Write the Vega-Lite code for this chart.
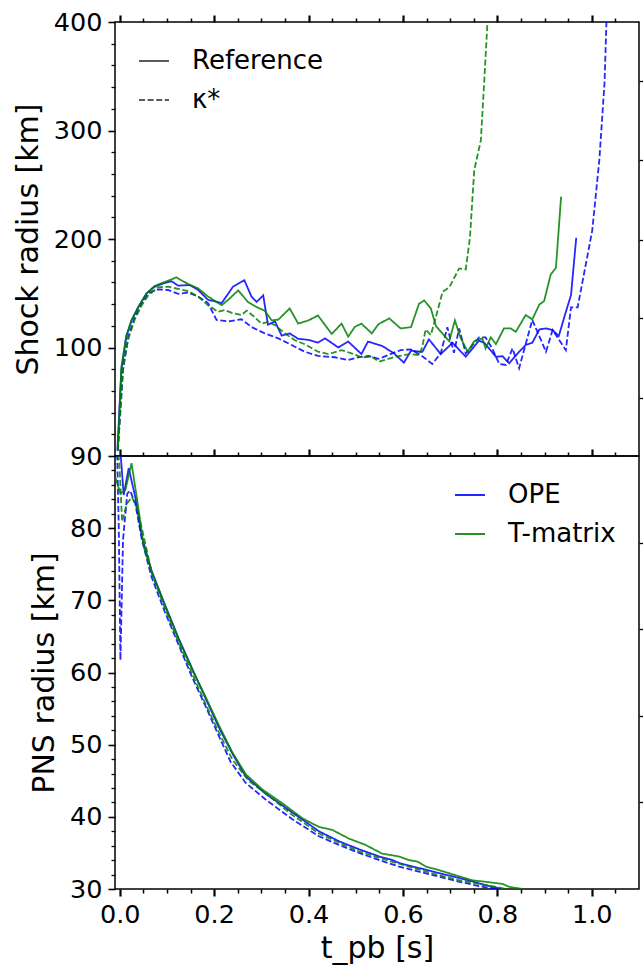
{
  "$schema": "https://vega.github.io/schema/vega-lite/v6.json",
  "padding": {"left": 12, "top": 9, "right": 0, "bottom": 0},
  "background": "white",
  "datasets": {
    "shock": [
      {"model":"OPE","run":"Reference","t":-0.005,"r":5},{"model":"OPE","run":"Reference","t":0.0035,"r":79},{"model":"OPE","run":"Reference","t":0.014,"r":110},{"model":"OPE","run":"Reference","t":0.025,"r":125},{"model":"OPE","run":"Reference","t":0.039,"r":137},{"model":"OPE","run":"Reference","t":0.057,"r":150},{"model":"OPE","run":"Reference","t":0.074,"r":156},{"model":"OPE","run":"Reference","t":0.092,"r":159},{"model":"OPE","run":"Reference","t":0.11,"r":161},{"model":"OPE","run":"Reference","t":0.124,"r":157},{"model":"OPE","run":"Reference","t":0.148,"r":157.6},{"model":"OPE","run":"Reference","t":0.166,"r":153},{"model":"OPE","run":"Reference","t":0.187,"r":144},{"model":"OPE","run":"Reference","t":0.216,"r":141},{"model":"OPE","run":"Reference","t":0.24,"r":156},{"model":"OPE","run":"Reference","t":0.264,"r":162},{"model":"OPE","run":"Reference","t":0.279,"r":147},{"model":"OPE","run":"Reference","t":0.29,"r":142},{"model":"OPE","run":"Reference","t":0.304,"r":148},{"model":"OPE","run":"Reference","t":0.314,"r":121},{"model":"OPE","run":"Reference","t":0.329,"r":124},{"model":"OPE","run":"Reference","t":0.343,"r":111},{"model":"OPE","run":"Reference","t":0.36,"r":113},{"model":"OPE","run":"Reference","t":0.378,"r":108},{"model":"OPE","run":"Reference","t":0.4,"r":107},{"model":"OPE","run":"Reference","t":0.42,"r":104.5},{"model":"OPE","run":"Reference","t":0.435,"r":108.4},{"model":"OPE","run":"Reference","t":0.463,"r":100},{"model":"OPE","run":"Reference","t":0.484,"r":105.5},{"model":"OPE","run":"Reference","t":0.512,"r":94},{"model":"OPE","run":"Reference","t":0.526,"r":105.5},{"model":"OPE","run":"Reference","t":0.556,"r":101.4},{"model":"OPE","run":"Reference","t":0.581,"r":94.6},{"model":"OPE","run":"Reference","t":0.602,"r":86},{"model":"OPE","run":"Reference","t":0.617,"r":97},{"model":"OPE","run":"Reference","t":0.641,"r":96},{"model":"OPE","run":"Reference","t":0.655,"r":107.5},{"model":"OPE","run":"Reference","t":0.68,"r":93.9},{"model":"OPE","run":"Reference","t":0.705,"r":104.4},{"model":"OPE","run":"Reference","t":0.733,"r":91.5},{"model":"OPE","run":"Reference","t":0.761,"r":106.3},{"model":"OPE","run":"Reference","t":0.772,"r":104.4},{"model":"OPE","run":"Reference","t":0.797,"r":91.5},{"model":"OPE","run":"Reference","t":0.811,"r":92},{"model":"OPE","run":"Reference","t":0.825,"r":85.4},{"model":"OPE","run":"Reference","t":0.843,"r":94.6},{"model":"OPE","run":"Reference","t":0.86,"r":102.3},{"model":"OPE","run":"Reference","t":0.874,"r":104.4},{"model":"OPE","run":"Reference","t":0.889,"r":116.7},{"model":"OPE","run":"Reference","t":0.903,"r":117.6},{"model":"OPE","run":"Reference","t":0.917,"r":116.1},{"model":"OPE","run":"Reference","t":0.93,"r":110.5},{"model":"OPE","run":"Reference","t":0.942,"r":128.4},{"model":"OPE","run":"Reference","t":0.956,"r":148.4},{"model":"OPE","run":"Reference","t":0.967,"r":201},
      {"model":"OPE","run":"κ*","t":-0.004,"r":5},{"model":"OPE","run":"κ*","t":0.007,"r":79},{"model":"OPE","run":"κ*","t":0.018,"r":110},{"model":"OPE","run":"κ*","t":0.032,"r":128},{"model":"OPE","run":"κ*","t":0.046,"r":140.6},{"model":"OPE","run":"κ*","t":0.06,"r":150},{"model":"OPE","run":"κ*","t":0.081,"r":153.6},{"model":"OPE","run":"κ*","t":0.102,"r":153},{"model":"OPE","run":"κ*","t":0.124,"r":149.5},{"model":"OPE","run":"κ*","t":0.145,"r":150.6},{"model":"OPE","run":"κ*","t":0.166,"r":147},{"model":"OPE","run":"κ*","t":0.187,"r":141},{"model":"OPE","run":"κ*","t":0.205,"r":125.4},{"model":"OPE","run":"κ*","t":0.23,"r":124},{"model":"OPE","run":"κ*","t":0.258,"r":126},{"model":"OPE","run":"κ*","t":0.279,"r":119},{"model":"OPE","run":"κ*","t":0.307,"r":113},{"model":"OPE","run":"κ*","t":0.336,"r":108.4},{"model":"OPE","run":"κ*","t":0.364,"r":102.3},{"model":"OPE","run":"κ*","t":0.392,"r":96.1},{"model":"OPE","run":"κ*","t":0.42,"r":92.3},{"model":"OPE","run":"κ*","t":0.456,"r":91},{"model":"OPE","run":"κ*","t":0.484,"r":88.5},{"model":"OPE","run":"κ*","t":0.505,"r":91},{"model":"OPE","run":"κ*","t":0.527,"r":92.3},{"model":"OPE","run":"κ*","t":0.548,"r":89.5},{"model":"OPE","run":"κ*","t":0.595,"r":97.6},{"model":"OPE","run":"κ*","t":0.617,"r":98.2},{"model":"OPE","run":"κ*","t":0.641,"r":92},{"model":"OPE","run":"κ*","t":0.662,"r":84.8},{"model":"OPE","run":"κ*","t":0.68,"r":94.6},{"model":"OPE","run":"κ*","t":0.694,"r":118.6},{"model":"OPE","run":"κ*","t":0.708,"r":95.2},{"model":"OPE","run":"κ*","t":0.719,"r":117.6},{"model":"OPE","run":"κ*","t":0.733,"r":94.6},{"model":"OPE","run":"κ*","t":0.761,"r":109.3},{"model":"OPE","run":"κ*","t":0.775,"r":109.3},{"model":"OPE","run":"κ*","t":0.789,"r":99.2},{"model":"OPE","run":"κ*","t":0.804,"r":84.8},{"model":"OPE","run":"κ*","t":0.818,"r":83.9},{"model":"OPE","run":"κ*","t":0.832,"r":99.2},{"model":"OPE","run":"κ*","t":0.846,"r":80.9},{"model":"OPE","run":"κ*","t":0.874,"r":125.4},{"model":"OPE","run":"κ*","t":0.903,"r":96.1},{"model":"OPE","run":"κ*","t":0.917,"r":116.1},{"model":"OPE","run":"κ*","t":0.945,"r":97.6},{"model":"OPE","run":"κ*","t":0.956,"r":137},{"model":"OPE","run":"κ*","t":0.97,"r":137},{"model":"OPE","run":"κ*","t":1.001,"r":208},{"model":"OPE","run":"κ*","t":1.016,"r":273},{"model":"OPE","run":"κ*","t":1.027,"r":344},{"model":"OPE","run":"κ*","t":1.031,"r":400},{"model":"OPE","run":"κ*","t":1.034,"r":430},
      {"model":"T-matrix","run":"Reference","t":-0.004,"r":5},{"model":"T-matrix","run":"Reference","t":0.0035,"r":82},{"model":"T-matrix","run":"Reference","t":0.014,"r":111},{"model":"T-matrix","run":"Reference","t":0.025,"r":125},{"model":"T-matrix","run":"Reference","t":0.039,"r":137},{"model":"T-matrix","run":"Reference","t":0.057,"r":150},{"model":"T-matrix","run":"Reference","t":0.074,"r":156.7},{"model":"T-matrix","run":"Reference","t":0.092,"r":159.8},{"model":"T-matrix","run":"Reference","t":0.11,"r":162.8},{"model":"T-matrix","run":"Reference","t":0.12,"r":164.7},{"model":"T-matrix","run":"Reference","t":0.127,"r":162.8},{"model":"T-matrix","run":"Reference","t":0.145,"r":158.5},{"model":"T-matrix","run":"Reference","t":0.166,"r":154.5},{"model":"T-matrix","run":"Reference","t":0.187,"r":147},{"model":"T-matrix","run":"Reference","t":0.216,"r":139},{"model":"T-matrix","run":"Reference","t":0.23,"r":144},{"model":"T-matrix","run":"Reference","t":0.251,"r":152.6},{"model":"T-matrix","run":"Reference","t":0.272,"r":141.8},{"model":"T-matrix","run":"Reference","t":0.29,"r":137.2},{"model":"T-matrix","run":"Reference","t":0.307,"r":134},{"model":"T-matrix","run":"Reference","t":0.322,"r":125},{"model":"T-matrix","run":"Reference","t":0.336,"r":125.7},{"model":"T-matrix","run":"Reference","t":0.36,"r":136},{"model":"T-matrix","run":"Reference","t":0.378,"r":122},{"model":"T-matrix","run":"Reference","t":0.4,"r":125},{"model":"T-matrix","run":"Reference","t":0.42,"r":129.5},{"model":"T-matrix","run":"Reference","t":0.449,"r":112.5},{"model":"T-matrix","run":"Reference","t":0.47,"r":122},{"model":"T-matrix","run":"Reference","t":0.484,"r":110},{"model":"T-matrix","run":"Reference","t":0.498,"r":119},{"model":"T-matrix","run":"Reference","t":0.512,"r":122},{"model":"T-matrix","run":"Reference","t":0.534,"r":113},{"model":"T-matrix","run":"Reference","t":0.548,"r":121.5},{"model":"T-matrix","run":"Reference","t":0.571,"r":126.8},{"model":"T-matrix","run":"Reference","t":0.595,"r":117.6},{"model":"T-matrix","run":"Reference","t":0.617,"r":118.8},{"model":"T-matrix","run":"Reference","t":0.634,"r":140.3},{"model":"T-matrix","run":"Reference","t":0.645,"r":143.4},{"model":"T-matrix","run":"Reference","t":0.659,"r":136},{"model":"T-matrix","run":"Reference","t":0.67,"r":119.7},{"model":"T-matrix","run":"Reference","t":0.698,"r":105.9},{"model":"T-matrix","run":"Reference","t":0.71,"r":125},{"model":"T-matrix","run":"Reference","t":0.722,"r":109},{"model":"T-matrix","run":"Reference","t":0.737,"r":96.1},{"model":"T-matrix","run":"Reference","t":0.751,"r":105.9},{"model":"T-matrix","run":"Reference","t":0.768,"r":108.4},{"model":"T-matrix","run":"Reference","t":0.775,"r":99.2},{"model":"T-matrix","run":"Reference","t":0.786,"r":109.3},{"model":"T-matrix","run":"Reference","t":0.797,"r":103.2},{"model":"T-matrix","run":"Reference","t":0.814,"r":117.6},{"model":"T-matrix","run":"Reference","t":0.828,"r":117.6},{"model":"T-matrix","run":"Reference","t":0.839,"r":114.5},{"model":"T-matrix","run":"Reference","t":0.86,"r":129.9},{"model":"T-matrix","run":"Reference","t":0.874,"r":125.9},{"model":"T-matrix","run":"Reference","t":0.889,"r":139.7},{"model":"T-matrix","run":"Reference","t":0.899,"r":142.8},{"model":"T-matrix","run":"Reference","t":0.913,"r":167.3},{"model":"T-matrix","run":"Reference","t":0.924,"r":173.5},{"model":"T-matrix","run":"Reference","t":0.935,"r":239},
      {"model":"T-matrix","run":"κ*","t":-0.004,"r":5},{"model":"T-matrix","run":"κ*","t":0.007,"r":82},{"model":"T-matrix","run":"κ*","t":0.018,"r":107.6},{"model":"T-matrix","run":"κ*","t":0.032,"r":126},{"model":"T-matrix","run":"κ*","t":0.046,"r":138.4},{"model":"T-matrix","run":"κ*","t":0.06,"r":147.8},{"model":"T-matrix","run":"κ*","t":0.081,"r":155.5},{"model":"T-matrix","run":"κ*","t":0.102,"r":156},{"model":"T-matrix","run":"κ*","t":0.124,"r":154},{"model":"T-matrix","run":"κ*","t":0.145,"r":152},{"model":"T-matrix","run":"κ*","t":0.166,"r":147},{"model":"T-matrix","run":"κ*","t":0.187,"r":139},{"model":"T-matrix","run":"κ*","t":0.208,"r":133},{"model":"T-matrix","run":"κ*","t":0.223,"r":134.5},{"model":"T-matrix","run":"κ*","t":0.24,"r":131.5},{"model":"T-matrix","run":"κ*","t":0.258,"r":130},{"model":"T-matrix","run":"κ*","t":0.269,"r":134},{"model":"T-matrix","run":"κ*","t":0.286,"r":128},{"model":"T-matrix","run":"κ*","t":0.3,"r":122},{"model":"T-matrix","run":"κ*","t":0.314,"r":123.6},{"model":"T-matrix","run":"κ*","t":0.329,"r":120.5},{"model":"T-matrix","run":"κ*","t":0.35,"r":112.9},{"model":"T-matrix","run":"κ*","t":0.371,"r":106.7},{"model":"T-matrix","run":"κ*","t":0.392,"r":103},{"model":"T-matrix","run":"κ*","t":0.42,"r":96.1},{"model":"T-matrix","run":"κ*","t":0.442,"r":94},{"model":"T-matrix","run":"κ*","t":0.47,"r":97.6},{"model":"T-matrix","run":"κ*","t":0.491,"r":94.6},{"model":"T-matrix","run":"κ*","t":0.512,"r":90.9},{"model":"T-matrix","run":"κ*","t":0.534,"r":91.5},{"model":"T-matrix","run":"κ*","t":0.549,"r":87},{"model":"T-matrix","run":"κ*","t":0.585,"r":91.5},{"model":"T-matrix","run":"κ*","t":0.613,"r":93.9},{"model":"T-matrix","run":"κ*","t":0.634,"r":93},{"model":"T-matrix","run":"κ*","t":0.641,"r":100.6},{"model":"T-matrix","run":"κ*","t":0.648,"r":116.7},{"model":"T-matrix","run":"κ*","t":0.659,"r":111.5},{"model":"T-matrix","run":"κ*","t":0.67,"r":128.4},{"model":"T-matrix","run":"κ*","t":0.684,"r":151.4},{"model":"T-matrix","run":"κ*","t":0.698,"r":155.4},{"model":"T-matrix","run":"κ*","t":0.719,"r":172.9},{"model":"T-matrix","run":"κ*","t":0.733,"r":172},{"model":"T-matrix","run":"κ*","t":0.742,"r":201.8},{"model":"T-matrix","run":"κ*","t":0.751,"r":263.6},{"model":"T-matrix","run":"κ*","t":0.765,"r":291},{"model":"T-matrix","run":"κ*","t":0.772,"r":343.8},{"model":"T-matrix","run":"κ*","t":0.779,"r":400},{"model":"T-matrix","run":"κ*","t":0.781,"r":430}
    ],
    "pns": [
      {"model":"OPE","run":"Reference","t":-0.008,"r":98},{"model":"OPE","run":"Reference","t":0.001,"r":91},{"model":"OPE","run":"Reference","t":0.0085,"r":84.6},{"model":"OPE","run":"Reference","t":0.019,"r":88.3},{"model":"OPE","run":"Reference","t":0.033,"r":84.3},{"model":"OPE","run":"Reference","t":0.047,"r":78.8},{"model":"OPE","run":"Reference","t":0.067,"r":74.2},{"model":"OPE","run":"Reference","t":0.095,"r":69.5},{"model":"OPE","run":"Reference","t":0.125,"r":64.7},{"model":"OPE","run":"Reference","t":0.153,"r":60.6},{"model":"OPE","run":"Reference","t":0.182,"r":56.4},{"model":"OPE","run":"Reference","t":0.21,"r":52.4},{"model":"OPE","run":"Reference","t":0.24,"r":48.6},{"model":"OPE","run":"Reference","t":0.267,"r":45.6},{"model":"OPE","run":"Reference","t":0.309,"r":43.2},{"model":"OPE","run":"Reference","t":0.344,"r":41.6},{"model":"OPE","run":"Reference","t":0.394,"r":39.3},{"model":"OPE","run":"Reference","t":0.422,"r":38},{"model":"OPE","run":"Reference","t":0.465,"r":36.6},{"model":"OPE","run":"Reference","t":0.507,"r":35.5},{"model":"OPE","run":"Reference","t":0.55,"r":34.5},{"model":"OPE","run":"Reference","t":0.578,"r":34},{"model":"OPE","run":"Reference","t":0.592,"r":33.6},{"model":"OPE","run":"Reference","t":0.634,"r":32.9},{"model":"OPE","run":"Reference","t":0.677,"r":32.2},{"model":"OPE","run":"Reference","t":0.72,"r":31.5},{"model":"OPE","run":"Reference","t":0.755,"r":30.9},{"model":"OPE","run":"Reference","t":0.783,"r":30.4},{"model":"OPE","run":"Reference","t":0.804,"r":30.1},{"model":"OPE","run":"Reference","t":0.82,"r":29.7},
      {"model":"OPE","run":"κ*","t":-0.007,"r":95},{"model":"OPE","run":"κ*","t":-0.002,"r":80},{"model":"OPE","run":"κ*","t":0.0015,"r":61.7},{"model":"OPE","run":"κ*","t":0.007,"r":78.4},{"model":"OPE","run":"κ*","t":0.016,"r":84.8},{"model":"OPE","run":"κ*","t":0.022,"r":85.2},{"model":"OPE","run":"κ*","t":0.033,"r":83.4},{"model":"OPE","run":"κ*","t":0.047,"r":78.4},{"model":"OPE","run":"κ*","t":0.067,"r":73.3},{"model":"OPE","run":"κ*","t":0.095,"r":68.5},{"model":"OPE","run":"κ*","t":0.125,"r":63.8},{"model":"OPE","run":"κ*","t":0.153,"r":59.4},{"model":"OPE","run":"κ*","t":0.182,"r":55.3},{"model":"OPE","run":"κ*","t":0.21,"r":51.2},{"model":"OPE","run":"κ*","t":0.235,"r":47.6},{"model":"OPE","run":"κ*","t":0.267,"r":44.7},{"model":"OPE","run":"κ*","t":0.309,"r":42.4},{"model":"OPE","run":"κ*","t":0.365,"r":39.7},{"model":"OPE","run":"κ*","t":0.422,"r":37.3},{"model":"OPE","run":"κ*","t":0.465,"r":36.1},{"model":"OPE","run":"κ*","t":0.507,"r":35},{"model":"OPE","run":"κ*","t":0.55,"r":34},{"model":"OPE","run":"κ*","t":0.592,"r":33.1},{"model":"OPE","run":"κ*","t":0.634,"r":32.4},{"model":"OPE","run":"κ*","t":0.677,"r":31.7},{"model":"OPE","run":"κ*","t":0.72,"r":31},{"model":"OPE","run":"κ*","t":0.762,"r":30.4},{"model":"OPE","run":"κ*","t":0.797,"r":30},{"model":"OPE","run":"κ*","t":0.81,"r":29.8},
      {"model":"T-matrix","run":"Reference","t":-0.009,"r":87},{"model":"T-matrix","run":"Reference","t":0.0014,"r":84.8},{"model":"T-matrix","run":"Reference","t":0.012,"r":85.3},{"model":"T-matrix","run":"Reference","t":0.025,"r":89},{"model":"T-matrix","run":"Reference","t":0.037,"r":83.9},{"model":"T-matrix","run":"Reference","t":0.051,"r":77.4},{"model":"T-matrix","run":"Reference","t":0.069,"r":73.7},{"model":"T-matrix","run":"Reference","t":0.097,"r":69.1},{"model":"T-matrix","run":"Reference","t":0.125,"r":64.6},{"model":"T-matrix","run":"Reference","t":0.153,"r":60.5},{"model":"T-matrix","run":"Reference","t":0.182,"r":56.6},{"model":"T-matrix","run":"Reference","t":0.21,"r":52.7},{"model":"T-matrix","run":"Reference","t":0.238,"r":49.0},{"model":"T-matrix","run":"Reference","t":0.267,"r":45.9},{"model":"T-matrix","run":"Reference","t":0.302,"r":43.8},{"model":"T-matrix","run":"Reference","t":0.344,"r":41.9},{"model":"T-matrix","run":"Reference","t":0.387,"r":39.8},{"model":"T-matrix","run":"Reference","t":0.422,"r":38.6},{"model":"T-matrix","run":"Reference","t":0.45,"r":38.2},{"model":"T-matrix","run":"Reference","t":0.485,"r":37},{"model":"T-matrix","run":"Reference","t":0.521,"r":36.1},{"model":"T-matrix","run":"Reference","t":0.556,"r":34.9},{"model":"T-matrix","run":"Reference","t":0.592,"r":34.5},{"model":"T-matrix","run":"Reference","t":0.613,"r":34},{"model":"T-matrix","run":"Reference","t":0.631,"r":33.8},{"model":"T-matrix","run":"Reference","t":0.649,"r":33.1},{"model":"T-matrix","run":"Reference","t":0.677,"r":32.6},{"model":"T-matrix","run":"Reference","t":0.712,"r":31.9},{"model":"T-matrix","run":"Reference","t":0.747,"r":31.2},{"model":"T-matrix","run":"Reference","t":0.775,"r":31},{"model":"T-matrix","run":"Reference","t":0.811,"r":30.7},{"model":"T-matrix","run":"Reference","t":0.825,"r":30.3},{"model":"T-matrix","run":"Reference","t":0.853,"r":30},{"model":"T-matrix","run":"Reference","t":0.87,"r":29.6},
      {"model":"T-matrix","run":"κ*","t":-0.008,"r":95},{"model":"T-matrix","run":"κ*","t":0,"r":88},{"model":"T-matrix","run":"κ*","t":0.005,"r":80.9},{"model":"T-matrix","run":"κ*","t":0.015,"r":83.4},{"model":"T-matrix","run":"κ*","t":0.026,"r":84.3},{"model":"T-matrix","run":"κ*","t":0.037,"r":82.7},{"model":"T-matrix","run":"κ*","t":0.051,"r":78.8},{"model":"T-matrix","run":"κ*","t":0.069,"r":73.5},{"model":"T-matrix","run":"κ*","t":0.097,"r":68.7},{"model":"T-matrix","run":"κ*","t":0.125,"r":64.1},{"model":"T-matrix","run":"κ*","t":0.153,"r":59.9},{"model":"T-matrix","run":"κ*","t":0.182,"r":55.6},{"model":"T-matrix","run":"κ*","t":0.21,"r":51.7},{"model":"T-matrix","run":"κ*","t":0.238,"r":48.0},{"model":"T-matrix","run":"κ*","t":0.273,"r":45.0},{"model":"T-matrix","run":"κ*","t":0.316,"r":42.9},{"model":"T-matrix","run":"κ*","t":0.365,"r":40.3},{"model":"T-matrix","run":"κ*","t":0.422,"r":37.7},{"model":"T-matrix","run":"κ*","t":0.465,"r":36.4},{"model":"T-matrix","run":"κ*","t":0.507,"r":35.2},{"model":"T-matrix","run":"κ*","t":0.55,"r":34.3},{"model":"T-matrix","run":"κ*","t":0.592,"r":33.5},{"model":"T-matrix","run":"κ*","t":0.634,"r":32.7},{"model":"T-matrix","run":"κ*","t":0.677,"r":31.9},{"model":"T-matrix","run":"κ*","t":0.72,"r":31.2},{"model":"T-matrix","run":"κ*","t":0.762,"r":30.7},{"model":"T-matrix","run":"κ*","t":0.804,"r":30.2},{"model":"T-matrix","run":"κ*","t":0.818,"r":30},{"model":"T-matrix","run":"κ*","t":0.83,"r":29.8}
    ]
  },
  "vconcat": [
    {
      "width": 524,
      "height": 434,
      "data": {"name": "shock"},
      "layer": [
        {
          "mark": {"type": "line", "clip": true, "strokeWidth": 1.8, "opacity": 0.85},
          "encoding": {
            "x": {"field": "t", "type": "quantitative", "scale": {"domain": [-0.01, 1.1], "nice": false, "zero": false}, "axis": null},
            "y": {"field": "r", "type": "quantitative", "scale": {"domain": [0, 400], "nice": false, "zero": false},
                  "axis": {"orient": "left", "values": [100, 200, 300, 400], "title": "Shock radius [km]", "tickWidth": 1.6}},
            "color": {"field": "model", "type": "nominal", "scale": {"domain": ["OPE", "T-matrix"], "range": ["#0000ff", "#008000"]}, "legend": null},
            "strokeDash": {"field": "run", "type": "nominal", "scale": {"domain": ["Reference", "κ*"], "range": [[1, 0], [6, 2.6]]},
                  "legend": {"orient": "top-left", "title": null, "symbolType": "stroke", "symbolStrokeColor": "black", "symbolStrokeWidth": 1.7, "symbolSize": 900, "offset": 23}}
          }
        },
        {
          "mark": {"type": "point", "opacity": 0, "clip": true},
          "encoding": {
            "x": {"field": "t", "type": "quantitative", "scale": {"domain": [-0.01, 1.1], "nice": false, "zero": false},
                  "axis": {"orient": "top", "values": [0, 0.2, 0.4, 0.6, 0.8, 1.0], "labels": false, "title": null, "tickWidth": 2.2}},
            "y": {"field": "r", "type": "quantitative", "scale": {"domain": [0, 400], "nice": false, "zero": false},
                  "axis": {"orient": "left", "values": [20, 40, 60, 80, 120, 140, 160, 180, 220, 240, 260, 280, 320, 340, 360, 380], "labels": false, "title": null, "tickSize": 4, "tickWidth": 1.3}}
          }
        },
        {
          "mark": {"type": "point", "opacity": 0, "clip": true},
          "encoding": {
            "x": {"field": "t", "type": "quantitative", "scale": {"domain": [-0.01, 1.1], "nice": false, "zero": false},
                  "axis": {"orient": "top", "values": [0.05, 0.1, 0.15, 0.25, 0.3, 0.35, 0.45, 0.5, 0.55, 0.65, 0.7, 0.75, 0.85, 0.9, 0.95, 1.05], "labels": false, "title": null, "tickSize": 4, "tickWidth": 1.5}},
            "y": {"field": "r", "type": "quantitative", "scale": {"domain": [0, 400], "nice": false, "zero": false},
                  "axis": {"orient": "right", "values": [53.5, 127.2, 199.1, 272.8, 345.6], "labels": false, "title": null, "tickWidth": 1.3}}
          }
        }
      ],
      "resolve": {"axis": {"x": "independent", "y": "independent"}}
    },
    {
      "width": 524,
      "height": 433,
      "data": {"name": "pns"},
      "layer": [
        {
          "mark": {"type": "line", "clip": true, "strokeWidth": 1.8, "opacity": 0.85},
          "encoding": {
            "x": {"field": "t", "type": "quantitative", "scale": {"domain": [-0.01, 1.1], "nice": false, "zero": false},
                  "axis": {"orient": "bottom", "values": [0, 0.2, 0.4, 0.6, 0.8, 1.0], "format": ".1f", "title": "t_pb [s]", "titlePadding": 6, "tickWidth": 2.2, "labelFlush": false}},
            "y": {"field": "r", "type": "quantitative", "scale": {"domain": [30, 90], "nice": false, "zero": false},
                  "axis": {"orient": "left", "values": [30, 40, 50, 60, 70, 80, 90], "title": "PNS radius [km]", "tickWidth": 1.6}},
            "color": {"field": "model", "type": "nominal", "scale": {"domain": ["OPE", "T-matrix"], "range": ["#0000ff", "#008000"]},
                  "legend": {"orient": "top-right", "title": null, "symbolType": "stroke", "symbolStrokeWidth": 2, "symbolSize": 900, "offset": 23}},
            "strokeDash": {"field": "run", "type": "nominal", "scale": {"domain": ["Reference", "κ*"], "range": [[1, 0], [6, 2.6]]}, "legend": null}
          }
        },
        {
          "mark": {"type": "point", "opacity": 0, "clip": true},
          "encoding": {
            "x": {"field": "t", "type": "quantitative", "scale": {"domain": [-0.01, 1.1], "nice": false, "zero": false},
                  "axis": {"orient": "bottom", "values": [0.05, 0.1, 0.15, 0.25, 0.3, 0.35, 0.45, 0.5, 0.55, 0.65, 0.7, 0.75, 0.85, 0.9, 0.95, 1.05], "labels": false, "title": null, "tickSize": 4, "tickWidth": 1.5}},
            "y": {"field": "r", "type": "quantitative", "scale": {"domain": [30, 90], "nice": false, "zero": false},
                  "axis": {"orient": "left", "values": [32, 34, 36, 38, 42, 44, 46, 48, 52, 54, 56, 58, 62, 64, 66, 68, 72, 74, 76, 78, 82, 84, 86, 88], "labels": false, "title": null, "tickSize": 4, "tickWidth": 1.3}}
          }
        },
        {
          "mark": {"type": "point", "opacity": 0, "clip": true},
          "encoding": {
            "x": {"field": "t", "type": "quantitative", "scale": {"domain": [-0.01, 1.1], "nice": false, "zero": false},
                  "axis": {"orient": "top", "values": [0, 0.2, 0.4, 0.6, 0.8, 1.0], "labels": false, "title": null, "tickWidth": 2.2}},
            "y": {"field": "r", "type": "quantitative", "scale": {"domain": [30, 90], "nice": false, "zero": false},
                  "axis": {"orient": "right", "values": [42, 54, 66, 78], "labels": false, "title": null, "tickWidth": 1.3}}
          }
        },
        {
          "mark": {"type": "point", "opacity": 0, "clip": true},
          "encoding": {
            "x": {"field": "t", "type": "quantitative", "scale": {"domain": [-0.01, 1.1], "nice": false, "zero": false},
                  "axis": {"orient": "top", "values": [0.05, 0.1, 0.15, 0.25, 0.3, 0.35, 0.45, 0.5, 0.55, 0.65, 0.7, 0.75, 0.85, 0.9, 0.95, 1.05], "labels": false, "title": null, "tickSize": 4, "tickWidth": 1.5}},
            "y": {"field": "r", "type": "quantitative", "scale": {"domain": [30, 90], "nice": false, "zero": false}, "axis": null}
          }
        }
      ],
      "resolve": {"axis": {"x": "independent", "y": "independent"}}
    }
  ],
  "spacing": 0,
  "bounds": "flush",
  "resolve": {"legend": {"color": "independent", "strokeDash": "independent"}},
  "config": {
    "font": "DejaVu Sans",
    "view": {"stroke": "black", "strokeWidth": 1.5},
    "axis": {
      "domain": false, "grid": false, "tickColor": "black", "tickSize": 7,
      "labelColor": "black", "labelFont": "DejaVu Sans", "labelFontSize": 25.5, "labelPadding": 6, "labelOverlap": false,
      "titleColor": "black", "titleFont": "DejaVu Sans", "titleFontSize": 30, "titleFontWeight": "normal", "titlePadding": 10
    },
    "legend": {
      "labelFont": "DejaVu Sans", "labelFontSize": 26, "labelColor": "black", "labelOffset": 22,
      "rowPadding": 10, "padding": 0
    }
  }
}
